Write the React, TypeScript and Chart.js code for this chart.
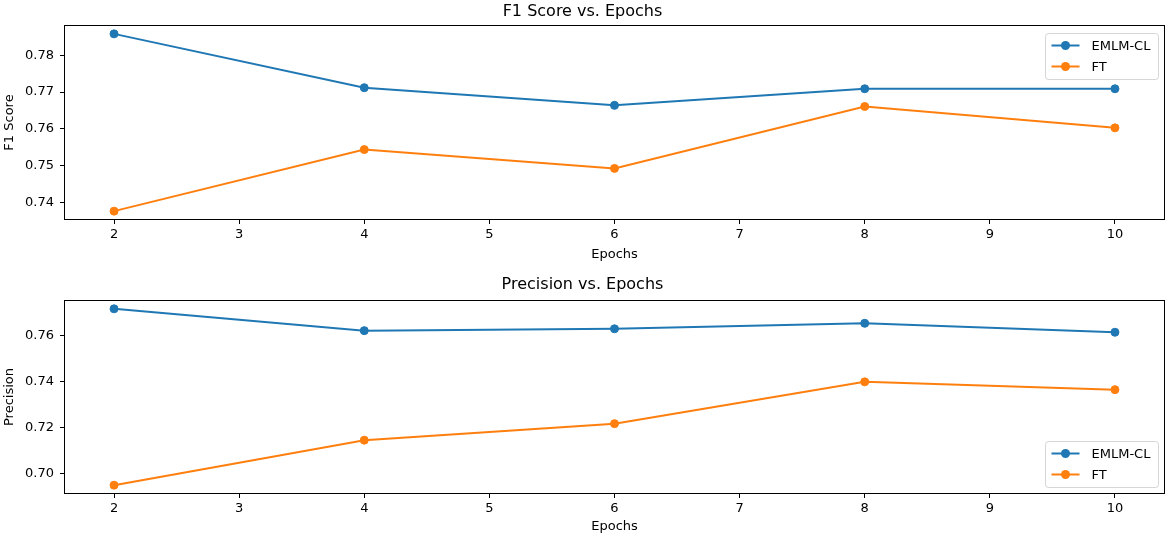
import { useEffect, useRef } from 'react'
import { Chart, registerables } from 'chart.js'
import type { Plugin } from 'chart.js'

Chart.register(...registerables)

const epochs = [2, 4, 6, 8, 10]
const xTicks = [2, 3, 4, 5, 6, 7, 8, 9, 10]

const seriesNames = ['EMLM-CL', 'FT']
const colors = ['#1f77b4', '#ff7f0e']

const f1EmlmCl = [0.7858, 0.7712, 0.7664, 0.7709, 0.7709]
const f1Ft = [0.7377, 0.7544, 0.7493, 0.7661, 0.7603]
const f1Ticks = [0.74, 0.75, 0.76, 0.77, 0.78]

const precEmlmCl = [0.7717, 0.7622, 0.763, 0.7654, 0.7615]
const precFt = [0.6949, 0.7145, 0.7217, 0.7399, 0.7365]
const precTicks = [0.7, 0.72, 0.74, 0.76]

const FONT = "'DejaVu Sans', sans-serif"

// matplotlib-style 5% margins around the data
function limits(values: number[], pad = 0.05) {
  const lo = Math.min(...values)
  const hi = Math.max(...values)
  const r = hi - lo
  return { min: lo - r * pad, max: hi + r * pad }
}

// full box spines + legend box drawn inside the plot area
const framePlugin: Plugin = {
  id: 'frame',
  afterDraw(chart, _args, opts: any) {
    const { ctx, chartArea: a } = chart
    ctx.save()
    const l = Math.round(a.left) + 0.5
    const t = Math.round(a.top) + 0.5
    const r = Math.round(a.right) - 0.5
    const b = Math.round(a.bottom) - 0.5
    ctx.strokeStyle = '#000'
    ctx.lineWidth = 1
    ctx.strokeRect(l, t, r - l, b - t)

    const w = 113
    const h = 46
    const x = Math.round(a.right - 7 - w) + 0.5
    const y = Math.round(opts.legendAt === 'top' ? a.top + 8 : a.bottom - 7 - h) + 0.5
    ctx.fillStyle = 'rgba(255,255,255,0.8)'
    ctx.strokeStyle = 'rgba(204,204,204,0.8)'
    ctx.beginPath()
    ctx.roundRect(x, y, w, h, 3)
    ctx.fill()
    ctx.stroke()

    ctx.font = '13px ' + FONT
    ctx.textBaseline = 'middle'
    ctx.textAlign = 'left'
    chart.data.datasets.forEach((ds: any, i) => {
      const cy = y + 12 + i * 21
      ctx.strokeStyle = ds.borderColor
      ctx.lineWidth = 2
      ctx.beginPath()
      ctx.moveTo(x + 6, cy)
      ctx.lineTo(x + 34, cy)
      ctx.stroke()
      ctx.fillStyle = ds.borderColor
      ctx.beginPath()
      ctx.arc(x + 20, cy, 4.5, 0, Math.PI * 2)
      ctx.fill()
      ctx.fillStyle = '#000'
      ctx.fillText(ds.label, x + 46, cy + 1)
    })
    ctx.restore()
  },
}

interface PanelProps {
  title: string
  yLabel: string
  series: number[][]
  yTicks: number[]
  legendAt: 'top' | 'bottom'
  titlePad: { top: number; bottom: number }
  xHeight: number
  xTitlePad: number
}

function Panel({ title, yLabel, series, yTicks, legendAt, titlePad, xHeight, xTitlePad }: PanelProps) {
  const canvasRef = useRef<HTMLCanvasElement>(null)
  const chartRef = useRef<Chart | null>(null)

  useEffect(() => {
    if (!canvasRef.current) return
    chartRef.current?.destroy()
    const yLim = limits(series.flat())
    const xLim = limits(epochs)

    chartRef.current = new Chart(canvasRef.current, {
      type: 'line',
      data: {
        datasets: series.map((vals, i) => ({
          label: seriesNames[i],
          data: vals.map((v, j) => ({ x: epochs[j], y: v })),
          borderColor: colors[i],
          backgroundColor: colors[i],
          pointBackgroundColor: colors[i],
          pointBorderColor: colors[i],
          pointRadius: 4,
          pointBorderWidth: 1,
          borderWidth: 2,
          tension: 0,
          fill: false,
        })),
      },
      options: {
        animation: false,
        responsive: true,
        maintainAspectRatio: false,
        layout: { padding: { left: 0, right: 5, top: 0, bottom: 0 } },
        plugins: {
          legend: { display: false },
          tooltip: { enabled: false },
          title: {
            display: true,
            text: title,
            color: '#000',
            font: { family: FONT, size: 16, weight: 'normal' },
            padding: titlePad,
          },
          frame: { legendAt },
        } as any,
        scales: {
          x: {
            type: 'linear',
            min: xLim.min,
            max: xLim.max,
            afterBuildTicks: (s: any) => { s.ticks = xTicks.map(v => ({ value: v })) },
            afterFit: (s: any) => { s.height = xHeight },
            ticks: {
              color: '#000',
              padding: 3,
              font: { family: FONT, size: 13 },
              callback: v => String(v),
            },
            grid: { display: true, drawOnChartArea: false, drawTicks: true, tickLength: 4, color: '#000' },
            border: { display: false },
            title: {
              display: true,
              text: 'Epochs',
              color: '#000',
              font: { family: FONT, size: 13 },
              padding: { top: 0, bottom: xTitlePad },
            },
          },
          y: {
            type: 'linear',
            min: yLim.min,
            max: yLim.max,
            afterBuildTicks: (s: any) => { s.ticks = yTicks.map(v => ({ value: v })) },
            afterFit: (s: any) => { s.width = 64 },
            ticks: {
              color: '#000',
              padding: 6,
              font: { family: FONT, size: 13 },
              callback: v => Number(v).toFixed(2),
            },
            grid: { display: true, drawOnChartArea: false, drawTicks: true, tickLength: 4, color: '#000' },
            border: { display: false },
            title: {
              display: true,
              text: yLabel,
              color: '#000',
              font: { family: FONT, size: 13 },
              padding: { top: 2, bottom: 0 },
            },
          },
        },
      },
      plugins: [framePlugin],
    })

    return () => chartRef.current?.destroy()
  }, [title, yLabel, series, yTicks, legendAt, titlePad, xHeight, xTitlePad])

  return (
    <div style={{ position: 'relative', width: 1170, height: 270 }}>
      <canvas ref={canvasRef} />
    </div>
  )
}

export default function App() {
  return (
    <div style={{ position: 'fixed', left: 0, top: 0, width: 1170, height: 540, background: '#fff' }}>
      <Panel
        title="F1 Score vs. Epochs"
        yLabel="F1 Score"
        series={[f1EmlmCl, f1Ft]}
        yTicks={f1Ticks}
        legendAt="top"
        titlePad={{ top: 2.5, bottom: 3.3 }}
        xHeight={50}
        xTitlePad={7.7}
      />
      <Panel
        title="Precision vs. Epochs"
        yLabel="Precision"
        series={[precEmlmCl, precFt]}
        yTicks={precTicks}
        legendAt="bottom"
        titlePad={{ top: 5.5, bottom: 5.3 }}
        xHeight={46}
        xTitlePad={6}
      />
    </div>
  )
}
